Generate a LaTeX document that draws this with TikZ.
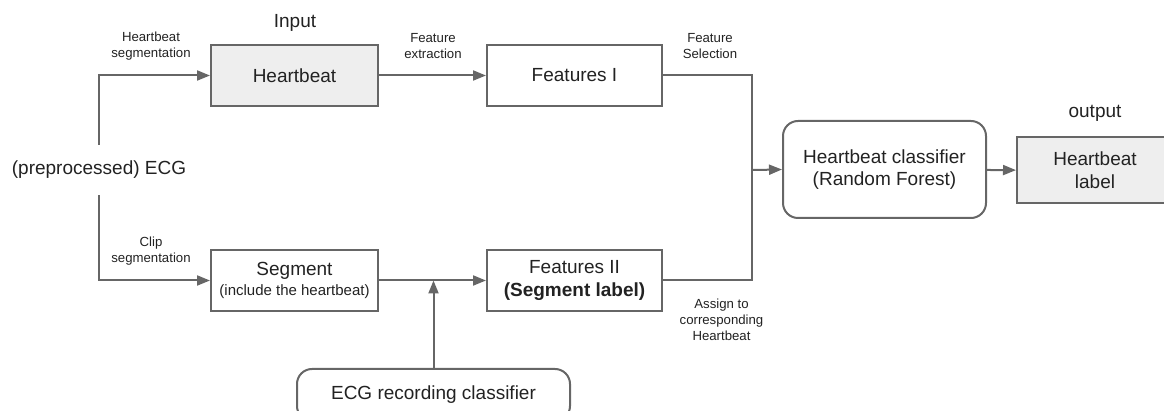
\documentclass[tikz,border=0pt]{standalone}
\usepackage{fontspec}
\setmainfont{Liberation Sans}
\usetikzlibrary{arrows.meta,positioning,calc}
\definecolor{linegray}{HTML}{666666}
\definecolor{boxfill}{HTML}{EEEEEE}
\definecolor{txtcol}{HTML}{222222}

\begin{document}
\begin{tikzpicture}[x=0.5pt,y=-0.5pt,
	every node/.style={text=txtcol,font=\fontsize{9.5}{11.3}\selectfont},
	box/.style={draw=linegray,line width=1pt,minimum height=30.5pt,align=center,inner sep=0pt},
	round box/.style={box,rounded corners=7.5pt},
	note/.style={font=\fontsize{6.6}{8}\selectfont,align=center},
	arr/.style={draw=linegray,line width=1pt,-{Triangle[length=6.5pt,width=5pt]}},
	wire/.style={draw=linegray,line width=1pt}]
	\useasboundingbox (0,0) rectangle (1164,411);
	% inputs
	\node[inner ysep=8pt] (ecg) at (99,170) {(preprocessed) ECG};
	\node[box,fill=boxfill,minimum width=83.5pt] (beat) at (294.5,75.5) {Heartbeat};
	\node[box,minimum width=83.5pt] (seg) at (294.5,280.5)
		{Segment\\[-1.5pt]{\fontsize{7.5}{9}\selectfont(include the heartbeat)}};
	\node at (295,23) {Input};
	% features
	\node[box,minimum width=87.5pt] (feat1) at (574.5,75.5) {Features I};
	\node[box,minimum width=87.5pt] (feat2) at (574.5,280.5) {Features II\\\textbf{(Segment label)}};
	\node[round box,minimum width=136.5pt,minimum height=26pt] (ecgc) at (433.5,395) {ECG recording classifier};
	% classifier and output
	\node[round box,minimum width=101.5pt,minimum height=48.5pt] (hbc) at (884.5,169.5)
		{Heartbeat classifier\\(Random Forest)};
	\node[box,fill=boxfill,minimum width=78pt,minimum height=33pt] (out) at (1095,170.5) {Heartbeat\\label};
	\node at (1095,113) {output};
	% edge notes
	\node[note] (n-hs) at (151,46) {Heartbeat\\segmentation};
	\node[note] (n-fe) at (433,46) {Feature\\extraction};
	\node[note] (n-fs) at (710,46) {Feature\\Selection};
	\node[note] (n-cs) at (151,251) {Clip\\segmentation};
	\node[note] (n-as) at (721.5,319.5) {Assign to\\corresponding\\Heartbeat};
	% connectors
	\coordinate (join) at (752,170);
	\coordinate (meet) at ($(seg.east)!0.5!(feat2.west)$);
	\draw[arr] (ecg.north) |- (beat.west);
	\draw[arr] (ecg.south) |- (seg.west);
	\draw[arr] (beat) -- (feat1);
	\draw[arr] (seg) -- (feat2);
	\draw[arr] (ecgc.north) -- (ecgc.north |- meet);
	\draw[wire] (feat1.east) -| (join) |- (feat2.east);
	\draw[arr] (join) -- (hbc.west);
	\draw[arr] (hbc) -- (out);
\end{tikzpicture}
\end{document}
